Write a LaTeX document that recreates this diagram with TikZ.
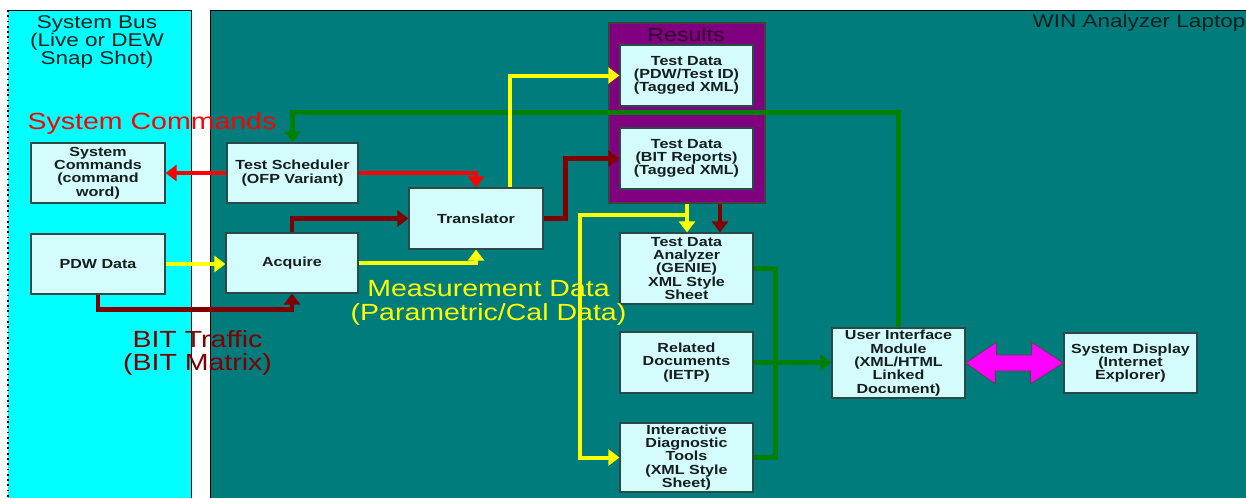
\documentclass[tikz,border=0pt]{standalone}
\usepackage{fontspec}
\setmainfont{Liberation Sans}[FakeStretch=1.22]
\usetikzlibrary{arrows.meta,calc}
\definecolor{cyanbg}{HTML}{00FFFF}
\definecolor{tealbg}{HTML}{007C7C}
\definecolor{boxfill}{HTML}{D4FCFC}
\definecolor{boxline}{HTML}{2A4A4A}
\definecolor{resp}{HTML}{800080}
\definecolor{cgreen}{HTML}{008000}
\definecolor{cdred}{HTML}{800000}
\definecolor{cred}{HTML}{FF0000}
\definecolor{cyel}{HTML}{FFFF00}
\definecolor{cmag}{HTML}{FF00FF}
\definecolor{ctext}{HTML}{141E1E}
\begin{document}
\begin{tikzpicture}[x=0.02cm,y=-0.02cm,
  box/.style 2 args={draw=boxline, line width=0.7pt, fill=boxfill, inner sep=0pt,
    align=center, text=ctext, minimum width=#1*0.02cm, minimum height=#2*0.02cm,
    font=\fontsize{7.5pt}{7.6pt}\selectfont\bfseries},
  midlabel/.style={font=\fontsize{10.5pt}{10.2pt}\selectfont, align=center, text=ctext, inner sep=0pt},
  biglabel/.style={font=\fontsize{13.3pt}{13.4pt}\selectfont, align=center, inner sep=0pt},
  tip/.style={arrows={-Triangle[length=0.22cm,width=0.32cm]}},
  redline/.style={draw=cred, line width=0.08cm},
  yelline/.style={draw=cyel, line width=0.08cm},
  dredline/.style={draw=cdred, line width=0.09cm},
  grnline/.style={draw=cgreen, line width=0.1cm},
]
\fill[white] (0,0) rectangle (1246,498);
\useasboundingbox (0,0) rectangle (1246,498);

% panels
\fill[cyanbg] (8,10) rectangle (191,498);
\draw[black, line width=0.5pt] (8,10) -- (191,10) -- (191,498);
\draw[black, dotted, line width=1pt] (8,10) -- (8,498);
\fill[tealbg] (210,10) rectangle (1246,498);
\draw[black, line width=0.5pt] (210,498) -- (210,10) -- (1246,10);

% panel labels
\node[midlabel] (buslabel) at (97,42) {System Bus\\(Live or DEW\\Snap Shot)};
\node[midlabel, anchor=base] (winlabel) at (1139,27) {WIN Analyzer Laptop};

% boxes
\node[box={134}{60}] (cmd) at (98,173) {System\\Commands\\(command\\word)};
\node[box={134}{60}] (pdw) at (98,264) {PDW Data};
\node[box={131}{60}] (sched) at (292.5,173) {Test Scheduler\\(OFP Variant)};
\node[box={132}{60}] (acq) at (292,263) {Acquire};
\node[box={134}{61}] (trans) at (476,218.5) {Translator};
\node[draw=black!75, line width=0.6pt, fill=resp, inner sep=0pt,
      minimum width=156*0.02cm, minimum height=180*0.02cm] (results) at (687,113) {};
\node[anchor=base, font=\fontsize{10.8pt}{10.8pt}\selectfont, text={rgb,255:red,48;green,0;blue,48}, inner sep=0pt] (reslabel) at (686,41) {Results};
\node[box={133}{61}] (td1) at (686.5,75.5) {Test Data\\(PDW/Test ID)\\(Tagged XML)};
\node[box={133}{61}] (td2) at (686.5,158.5) {Test Data\\(BIT Reports)\\(Tagged XML)};
\node[box={133}{71}] (tda) at (686.5,268.5) {Test Data\\Analyzer\\(GENIE)\\XML Style\\Sheet};
\node[box={133}{61}] (rel) at (686.5,362.5) {Related\\Documents\\(IETP)};
\node[box={133}{69}] (idt) at (686.5,457.5) {Interactive\\Diagnostic\\Tools\\(XML Style\\Sheet)};
\node[box={133}{70}] (ui) at (898.5,363) {User Interface\\Module\\(XML/HTML\\Linked\\Document)};
\node[box={133}{60}] (disp) at (1130.5,363) {System Display\\(Internet\\Explorer)};

% big labels
\node[biglabel, text=cred, anchor=base] (syscmd) at (152,129) {System Commands};
\node[biglabel, text=cyel] (meas) at (488.5,303) {Measurement Data\\(Parametric/Cal Data)};
\node[biglabel, text=cdred] (bit) at (197.5,353) {BIT Traffic\\(BIT Matrix)};

% connectors
\draw[grnline, tip] (ui.north) |- ($(sched.north)+(0,-30)$) -- (sched.north);
\draw[redline, tip] (sched.west) -- (cmd.east);
\draw[redline, tip] (sched.east) -| (trans.north);
\draw[yelline, tip] (pdw.east) -- (pdw.east -| acq.west);
\draw[yelline, tip] (acq.east) -| (trans.south);
\draw[dredline, tip] (acq.north) |- (trans.west);
\draw[dredline, tip] (pdw.south) |- ($(acq.south)+(0,16)$) -- (acq.south);
\draw[yelline, tip] ($(trans.north)+(34,0)$) |- (td1.west);
\draw[dredline, tip] (trans.east) -- ++(22,0) |- (td2.west);
\draw[yelline, tip] (results.south) -- (results.south |- tda.north);
\draw[yelline, tip] ($(results.south)+(0,11)$) -- ++(-107,0) |- (idt.west);
\draw[dredline, tip] ($(results.south)+(33,0)$) -- ($(results.south |- tda.north)+(33,0)$);
\draw[grnline] (tda.east) -- ++(22,0) |- (idt.east);
\draw[grnline, tip] (rel.east) -- (rel.east -| ui.west);

% magenta double arrow
\draw[fill=cmag, draw=black!70, line width=0.5pt, line join=miter]
  (ui.east) -- ++(31,-21) -- ++(0,13) -- ++(35,0) -- ++(0,-13) -- (disp.west)
  -- ++(-33,21) -- ++(0,-13) -- ++(-35,0) -- ++(0,13) -- cycle;
\end{tikzpicture}
\end{document}
